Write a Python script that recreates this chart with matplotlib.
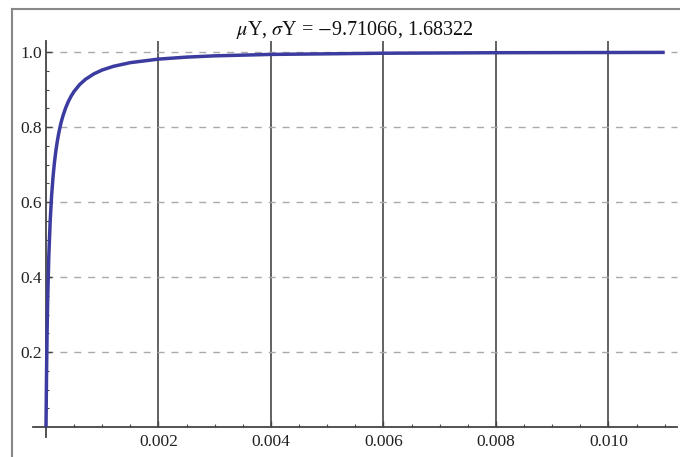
import matplotlib.pyplot as plt
from matplotlib.ticker import MultipleLocator, FixedLocator

plt.rcParams['font.family'] = ['Liberation Serif', 'DejaVu Serif']
plt.rcParams['mathtext.fontset'] = 'stix'

mu_y = -9.71066
sigma_y = 1.68322

# cumulative probability vs x
x_vals = [0.0, 1e-6, 5e-6, 1e-5, 2e-5, 3e-5, 5e-5, 7.5e-5, 1e-4, 1.25e-4, 1.5e-4,
          1.75e-4, 2e-4, 2.25e-4, 2.5e-4, 2.75e-4, 3e-4, 3.5e-4, 4e-4, 4.5e-4,
          5e-4, 6e-4, 7e-4, 8.5e-4, 1e-3, 1.2e-3, 1.5e-3, 2e-3, 2.5e-3,
          3e-3, 4e-3, 6e-3, 8e-3, 0.011]
cdf_vals = [0.0, 0.0074, 0.0691, 0.1422, 0.2550, 0.3380, 0.4544, 0.5503, 0.6169,
            0.6663, 0.7047, 0.7356, 0.7609, 0.7820, 0.8000, 0.8155, 0.8289,
            0.8512, 0.8688, 0.8831, 0.8950, 0.9134, 0.9269, 0.9416, 0.9521,
            0.9619, 0.9717, 0.9811, 0.9864, 0.9898, 0.9936, 0.9968, 0.9981, 0.9990]

x_ticks = [0.002, 0.004, 0.006, 0.008, 0.010]
x_labels = ['0.002', '0.004', '0.006', '0.008', '0.010']
y_ticks = [0.2, 0.4, 0.6, 0.8, 1.0]
y_labels = ['0.2', '0.4', '0.6', '0.8', '1.0']

fig = plt.figure(figsize=(6.8, 4.57), dpi=100)
ax = fig.add_axes([0.0428, 0.041, 0.9554, 0.8862])
ax.set_xlim(-0.0003, 0.01125)
ax.set_ylim(-0.03, 1.05)

# axes cross at the origin
for s in ['top', 'right']:
    ax.spines[s].set_visible(False)
ax.spines['left'].set_position(('data', 0))
ax.spines['bottom'].set_position(('data', 0))
ax.spines['left'].set_bounds(-0.027, 1.03)
ax.spines['bottom'].set_bounds(-0.00023, 0.01122)
for s in ['left', 'bottom']:
    ax.spines[s].set_color('#444444')
    ax.spines[s].set_linewidth(1.3)

# grid: solid verticals, dashed horizontals
ax.vlines(x_ticks, 0, 1.03, color='#555555', lw=1.3, zorder=1)
ax.hlines(y_ticks, 0, 0.01122, color='#aaaaaa', lw=1.0,
          linestyles=(0, (5, 5)), zorder=1)

ax.plot(x_vals, cdf_vals, color='#3c3ca0', lw=2.5, zorder=3,
        solid_capstyle='butt', solid_joinstyle='round')

ax.xaxis.set_major_locator(FixedLocator(x_ticks))
ax.set_xticklabels(x_labels)
ax.xaxis.set_minor_locator(FixedLocator([i * 0.0005 for i in range(1, 23)]))
ax.yaxis.set_major_locator(FixedLocator(y_ticks))
ax.set_yticklabels(y_labels)
ax.yaxis.set_minor_locator(FixedLocator([i * 0.05 for i in range(1, 20)]))
ax.tick_params(axis='both', which='major', direction='in', length=4,
               width=1, color='#444444', labelsize=12.5, labelcolor='#222222')
ax.tick_params(axis='both', which='minor', direction='in', length=2.5,
               width=0.8, color='#444444')
ax.tick_params(axis='x', which='major', pad=5)
ax.tick_params(axis='y', which='major', pad=3)

fig.text(0.522, 0.934, r'$\mu$Y, $\sigma$Y = $-$9.71066, 1.68322',
         ha='center', va='center', fontsize=14.5, color='#111111')

# outer frame on the left and top
fig.add_artist(plt.Line2D([12 / 680, 12 / 680], [0, 1 - 9 / 457],
                          color='#888888', lw=1.5))
fig.add_artist(plt.Line2D([12 / 680, 1], [1 - 9 / 457, 1 - 9 / 457],
                          color='#888888', lw=1.5))

fig.savefig('out.png', dpi=100)
